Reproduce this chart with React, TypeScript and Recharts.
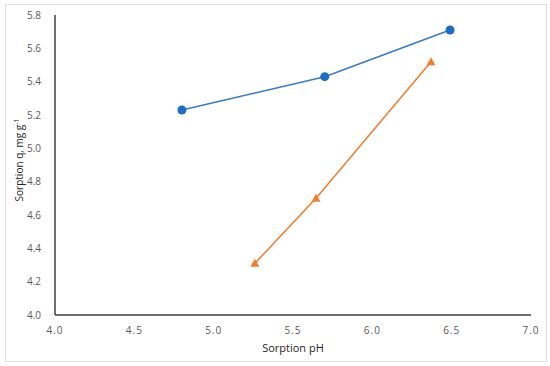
import React from 'react';
import { ScatterChart, Scatter, XAxis, YAxis, Label } from 'recharts';

// sorption at different pH values, two series
const phSeriesA = [4.8, 5.7, 6.49];
const qSeriesA = [5.23, 5.43, 5.71];
const phSeriesB = [5.26, 5.645, 6.37];
const qSeriesB = [4.31, 4.7, 5.52];

const xTicks = [4.0, 4.5, 5.0, 5.5, 6.0, 6.5, 7.0];
const yTicks = [4.0, 4.2, 4.4, 4.6, 4.8, 5.0, 5.2, 5.4, 5.6, 5.8];

const seriesA = phSeriesA.map((ph, i) => ({ ph, q: qSeriesA[i] }));
const seriesB = phSeriesB.map((ph, i) => ({ ph, q: qSeriesB[i] }));

const blue = '#1f6cc4';
const orange = '#f07c2e';
const font = '"Open Sans", "Liberation Sans", sans-serif';

const Dot = (props: any) => {
  const { cx, cy } = props;
  return <circle cx={cx} cy={cy} r={4.5} fill={blue} />;
};

const Tri = (props: any) => {
  const { cx, cy } = props;
  return <path d={`M${cx},${cy - 4.5} L${cx + 4.5},${cy + 3.5} L${cx - 4.5},${cy + 3.5} Z`} fill={orange} />;
};

const YLabel = () => (
  <text x={23} y={160} transform="rotate(-90 23 160)" textAnchor="middle" fill="#262626" fontSize={10} fontFamily={font}>
    Sorption q, mg g
    <tspan fontSize={7} dy={-4}>-1</tspan>
  </text>
);

const App: React.FC = () => {
  return (
    <div style={{ position: 'absolute', left: 0, top: 0, width: 550, height: 366, background: '#fff' }}>
      <div style={{ position: 'absolute', left: 5, top: 4, width: 540, height: 356, border: '1px solid #e0e0e0' }} />
      <ScatterChart width={550} height={366} margin={{ top: 15, right: 19, left: 0, bottom: 0 }}>
        <XAxis
          type="number"
          dataKey="ph"
          domain={[4, 7]}
          ticks={xTicks}
          tickFormatter={(v: number) => v.toFixed(1)}
          height={51}
          tickLine={false}
          axisLine={{ stroke: '#404040', strokeWidth: 1.5 }}
          tick={{ fill: '#595959', fontSize: 10, fontFamily: font, letterSpacing: 1 }}
          tickMargin={6}
        >
          <Label value="Sorption pH" position="insideBottom" offset={14} fill="#262626" fontSize={11} fontFamily={font} />
        </XAxis>
        <YAxis
          type="number"
          dataKey="q"
          domain={[4, 5.8]}
          ticks={yTicks}
          tickFormatter={(v: number) => v.toFixed(1)}
          width={55}
          tickLine={false}
          axisLine={{ stroke: '#404040', strokeWidth: 1.5 }}
          tick={{ fill: '#595959', fontSize: 10, fontFamily: font }}
          tickMargin={8}
        >
          <Label content={<YLabel />} />
        </YAxis>
        <Scatter data={seriesA} line={{ stroke: '#3a78c2', strokeWidth: 1.5 }} shape={<Dot />} isAnimationActive={false} />
        <Scatter data={seriesB} line={{ stroke: orange, strokeWidth: 1.5 }} shape={<Tri />} isAnimationActive={false} />
      </ScatterChart>
    </div>
  );
};

export default App;
